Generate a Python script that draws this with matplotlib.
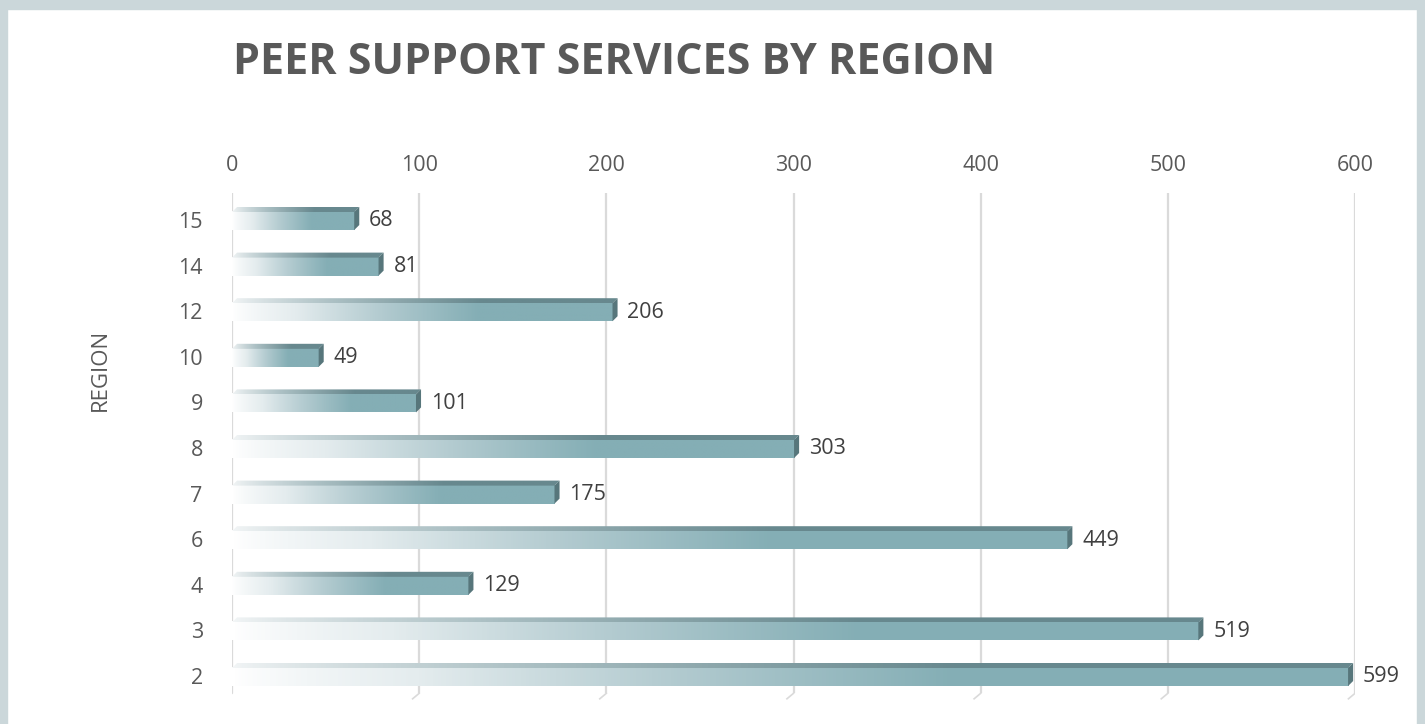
import numpy as np
import matplotlib
matplotlib.use("Agg")
import matplotlib.pyplot as plt
from matplotlib.colors import LinearSegmentedColormap
from matplotlib.patches import Polygon, Rectangle

# ------------------Data------------------
regions = ["2", "3", "4", "6", "7", "8", "9", "10", "12", "14", "15"]
services = [599, 519, 129, 449, 175, 303, 101, 49, 206, 81, 68]
x_ticks = [0, 100, 200, 300, 400, 500, 600]

title = "PEER SUPPORT SERVICES BY REGION"
y_title = "REGION"

plt.rcParams['font.family'] = ['Open Sans', 'DejaVu Sans']

W, H = 1425, 724
fig = plt.figure(figsize=(W / 100, H / 100), dpi=100)
fig.patch.set_facecolor("white")

# Frame around the chart
border = "#CBD7DA"
fig.patches.append(Rectangle((0, 0), 7 / W, 1, transform=fig.transFigure, color=border, zorder=0))
fig.patches.append(Rectangle((0, 1 - 9 / H), 1, 9 / H, transform=fig.transFigure, color=border, zorder=0))
fig.patches.append(Rectangle((1 - 8 / W, 0), 8 / W, 1, transform=fig.transFigure, color=border, zorder=0))

# Axes placed in pixel terms: x 0..600 -> 232..1355, rows 45.6px apart
y_lo, y_hi = -0.55, 10.6
row_px = 45.6
ax_left, ax_right = 232, 1355
ax_bottom = 676 + (-y_lo) * row_px
ax_top = 676 - y_hi * row_px
ax = fig.add_axes([ax_left / W, 1 - ax_bottom / H, (ax_right - ax_left) / W, (ax_bottom - ax_top) / H])
ax.set_xlim(0, 600)
ax.set_ylim(y_lo, y_hi)
ax.patch.set_alpha(0)
for s in ax.spines.values():
    s.set_visible(False)

# Gridlines with a little slanted foot
for t in x_ticks:
    ax.plot([t, t], [y_hi, -0.38], color="#DADADA", lw=1.6, zorder=1, solid_capstyle="butt")
    ax.plot([t, t - 3.5], [-0.38, -0.5], color="#DADADA", lw=1.2, zorder=1)

front_cmap = LinearSegmentedColormap.from_list("front", ["#FFFFFF", "#E4ECEE", "#B3CBD0", "#84AEB5"])
top_cmap = LinearSegmentedColormap.from_list("top", ["#F2F5F6", "#A9BEC2", "#67888E"])
side_color = "#57767B"

dx = 2.7   # depth in data units (x)
dy = 0.11  # depth in data units (y)
f_top, f_bot = 0.175, -0.22

for i, (lab, v) in enumerate(zip(regions, services)):
    grad = np.clip(np.linspace(0, 1, 256) / 0.65, 0, 1) ** 0.8
    grad = grad[np.newaxis, :]
    x1 = v - dx
    # front face
    ax.imshow(grad, cmap=front_cmap, vmin=0, vmax=1, aspect="auto",
              extent=[0, x1, i + f_bot, i + f_top], zorder=2, interpolation="bilinear")
    # top face
    top_poly = Polygon([(0, i + f_top), (x1, i + f_top), (v, i + f_top + dy), (dx, i + f_top + dy)],
                       closed=True, facecolor="none", edgecolor="none")
    ax.add_patch(top_poly)
    im = ax.imshow(grad, cmap=top_cmap, vmin=0, vmax=1, aspect="auto",
                   extent=[0, v, i + f_top, i + f_top + dy], zorder=2, interpolation="bilinear")
    im.set_clip_path(top_poly)
    # right face
    ax.add_patch(Polygon([(x1, i + f_bot), (x1, i + f_top), (v, i + f_top + dy), (v, i + f_bot + dy)],
                         closed=True, facecolor=side_color, edgecolor="none", zorder=3))
    # value label
    ax.text(v + 5.3, i - 0.02, str(v), ha="left", va="center", fontsize=15.5, color="#404040", zorder=4)

ax.set_yticks(range(len(regions)))
ax.set_yticklabels(regions, fontsize=15.5, color="#595959")
ax.set_xticks(x_ticks)
ax.set_xticklabels([str(t) for t in x_ticks], fontsize=15.5, color="#595959")
ax.xaxis.tick_top()
ax.tick_params(axis="x", length=0, pad=12)
ax.tick_params(axis="y", length=0, pad=21)

fig.text(100 / W, 1 - 370 / H, y_title, rotation=90, ha="center", va="center", fontsize=16, color="#595959")
fig.text(233 / W, 1 - 62 / H, title, ha="left", va="center", fontsize=31, fontweight="bold", color="#595959")

fig.savefig("out.png", dpi=100)
